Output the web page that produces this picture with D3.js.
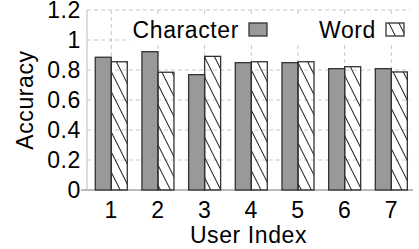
<!DOCTYPE html>
<html>
<head>
<meta charset="utf-8">
<script src="https://cdn.jsdelivr.net/npm/d3@7"></script>
<style>
  body { margin: 0; background: #fff; }
  text { font-family: "Liberation Sans", Arial, sans-serif; fill: #000; letter-spacing: 0.6px; }
</style>
</head>
<body>
<svg id="chart" width="419" height="249"></svg>
<script>
const users = [1, 2, 3, 4, 5, 6, 7]
const character = [0.885, 0.922, 0.769, 0.849, 0.849, 0.809, 0.809]
const word = [0.855, 0.785, 0.891, 0.855, 0.855, 0.822, 0.787]
const yTicks = [0, 0.2, 0.4, 0.6, 0.8, 1, 1.2]
const seriesNames = ['Character', 'Word']

const plotLeft = 87, plotRight = 410, plotTop = 10, plotBottom = 190
const barW = 0.343
const fontSize = 23

const svg = d3.select('#chart')

const x = d3.scaleLinear().domain([0.48, 7.4]).range([plotLeft, plotRight])
const y = d3.scaleLinear().domain([0, 1.2]).range([plotBottom, plotTop])

// hatch pattern for the word bars
const defs = svg.append('defs')
defs.append('pattern')
    .attr('id', 'hatch')
    .attr('patternUnits', 'userSpaceOnUse')
    .attr('width', 9)
    .attr('height', 9)
    .attr('patternTransform', 'rotate(-26.57)')
  .append('line')
    .attr('x1', 4.5).attr('y1', 0)
    .attr('x2', 4.5).attr('y2', 9)
    .attr('stroke', '#222')
    .attr('stroke-width', 1)

// grid
const grid = svg.append('g')
grid.selectAll('.hgrid')
    .data(yTicks.slice(1))
    .enter().append('line')
    .attr('x1', plotLeft).attr('x2', plotRight)
    .attr('y1', d => y(d)).attr('y2', d => y(d))
    .attr('stroke', '#c8c8c8')
    .attr('stroke-dasharray', '4,3')
grid.selectAll('.vgrid')
    .data(users)
    .enter().append('line')
    .attr('x1', d => x(d)).attr('x2', d => x(d))
    .attr('y1', plotTop).attr('y2', plotBottom)
    .attr('stroke', '#c8c8c8')
    .attr('stroke-dasharray', '4,3')

// axis lines
svg.append('line')
    .attr('x1', plotLeft).attr('x2', plotLeft)
    .attr('y1', plotTop).attr('y2', plotBottom)
    .attr('stroke', '#bbb').attr('stroke-width', 1)
svg.append('line')
    .attr('x1', plotLeft - 6).attr('x2', plotRight + 3)
    .attr('y1', plotBottom).attr('y2', plotBottom)
    .attr('stroke', '#bbb').attr('stroke-width', 2)

// bars
const g = svg.append('g')
g.selectAll('.char')
    .data(users)
    .enter().append('rect')
    .attr('x', d => x(d - barW))
    .attr('width', (d) => x(d) - x(d - barW))
    .attr('y', (d, i) => y(character[i]))
    .attr('height', (d, i) => y(0) - y(character[i]))
    .attr('fill', '#999')
    .attr('stroke', '#333')
    .attr('stroke-width', 1.3)
g.selectAll('.word')
    .data(users)
    .enter().append('rect')
    .attr('x', d => x(d))
    .attr('width', (d) => x(d + barW) - x(d))
    .attr('y', (d, i) => y(word[i]))
    .attr('height', (d, i) => y(0) - y(word[i]))
    .attr('fill', 'url(#hatch)')
    .attr('stroke', '#333')
    .attr('stroke-width', 1.3)

// y tick labels
svg.selectAll('.ytick')
    .data(yTicks)
    .enter().append('text')
    .attr('x', plotLeft - 6)
    .attr('y', d => y(d))
    .attr('dy', '0.35em')
    .attr('text-anchor', 'end')
    .style('font-size', fontSize + 'px')
    .text(d => d)

// x tick labels
svg.selectAll('.xtick')
    .data(users)
    .enter().append('text')
    .attr('x', d => x(d))
    .attr('y', 218)
    .attr('text-anchor', 'middle')
    .style('font-size', fontSize + 'px')
    .text(d => d)

svg.append('text')
    .attr('x', (plotLeft + plotRight) / 2)
    .attr('y', 243)
    .attr('text-anchor', 'middle')
    .style('font-size', fontSize + 'px')
    .text('User Index')

svg.append('text')
    .attr('transform', 'translate(33,100) rotate(-90)')
    .attr('text-anchor', 'middle')
    .style('font-size', fontSize + 'px')
    .text('Accuracy')

// legend
const legend = svg.append('g')
legend.append('rect')
    .attr('x', 130).attr('y', 17)
    .attr('width', plotRight - 130).attr('height', 27)
    .attr('fill', '#fff')
const items = [
    { name: seriesNames[0], tx: 239, bx: 249, fill: '#999' },
    { name: seriesNames[1], tx: 376, bx: 386, fill: 'url(#hatch)' }
]
items.forEach(it => {
    legend.append('text')
        .attr('x', it.tx).attr('y', 38)
        .attr('text-anchor', 'end')
        .style('font-size', fontSize + 'px')
        .text(it.name)
    legend.append('rect')
        .attr('x', it.bx).attr('y', 23)
        .attr('width', 18).attr('height', 13)
        .attr('fill', it.fill)
        .attr('stroke', '#333')
        .attr('stroke-width', 1.3)
})
</script>
</body>
</html>
